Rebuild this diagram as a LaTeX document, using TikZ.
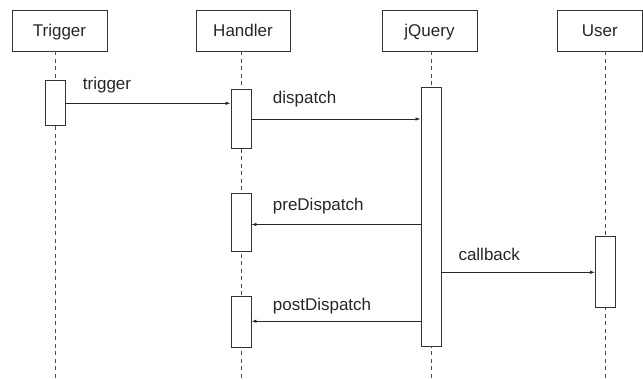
\documentclass[tikz,border=0pt]{standalone}
\usepackage{fontspec}
\setmainfont{Liberation Sans}
\usetikzlibrary{arrows.meta,positioning}

\begin{document}
\begin{tikzpicture}[
  x=1pt,y=-1pt,
  actor/.style={draw=black!80,line width=0.9pt,minimum height=41pt,
                inner sep=0pt,text height=12.2pt,text depth=0pt,
                text=black!85,font=\fontsize{17}{20}\selectfont},
  activation/.style={draw=black!80,fill=white,line width=0.9pt,
                     minimum width=20pt,inner sep=0pt},
  lifeline/.style={draw=black!70,line width=0.9pt,dash pattern=on 4pt off 3.5pt},
  message/.style={draw=black!85,line width=0.8pt,
                  -{Latex[length=5pt,width=3.5pt]}},
  msglabel/.style={anchor=base west,inner sep=0pt,text=black!85,
                   font=\fontsize{17}{20}\selectfont}
]
\useasboundingbox (0,0) rectangle (643,380);

% actors
\node[actor,minimum width=95pt] (trigger) at (59.5,30.5) {Trigger};
\node[actor,minimum width=94pt] (handler) at (243,30.5) {Handler};
\node[actor,minimum width=95pt] (jquery) at (429.5,30.5) {jQuery};
\node[actor,minimum width=85pt] (user) at (599.8,30.5) {User};

% lifelines
\coordinate (tEnd) at (55.7,380);
\coordinate (hEnd) at (241,380);
\coordinate (jEnd) at (431,380);
\coordinate (uEnd) at (605.5,380);
\draw[lifeline] (trigger.south -| tEnd) -- (tEnd);
\draw[lifeline] (handler.south -| hEnd) -- (hEnd);
\draw[lifeline] (jquery.south -| jEnd) -- (jEnd);
\draw[lifeline] (user.south -| uEnd) -- (uEnd);

% activations
\node[activation,minimum height=45pt] (tAct) at (55.7,103.2) {};
\node[activation,minimum height=59pt] (hAct1) at (241,118.5) {};
\node[activation,minimum height=259.7pt] (jAct) at (431,216.9) {};
\node[activation,minimum height=58pt] (hAct2) at (241,222.3) {};
\node[activation,minimum height=51pt] (hAct3) at (241,321.5) {};
\node[activation,minimum height=71pt] (uAct) at (605.5,271.8) {};

% messages
\coordinate (m1) at (0,103.3);
\coordinate (m2) at (0,119);
\coordinate (m3) at (0,224.5);
\coordinate (m4) at (0,272.3);
\coordinate (m5) at (0,321.2);
\draw[message] (tAct.east |- m1) -- (hAct1.west |- m1);
\draw[message] (hAct1.east |- m2) -- (jAct.west |- m2);
\draw[message] (jAct.west |- m3) -- (hAct2.east |- m3);
\draw[message] (jAct.east |- m4) -- (uAct.west |- m4);
\draw[message] (jAct.west |- m5) -- (hAct3.east |- m5);

\node[msglabel] (lTrigger) at (82.7,89) {trigger};
\node[msglabel] (lDispatch) at (272.7,103.3) {dispatch};
\node[msglabel] (lPre) at (272.7,210.7) {preDispatch};
\node[msglabel] (lCallback) at (458.3,260.7) {callback};
\node[msglabel] (lPost) at (272.7,310.7) {postDispatch};
\end{tikzpicture}
\end{document}
